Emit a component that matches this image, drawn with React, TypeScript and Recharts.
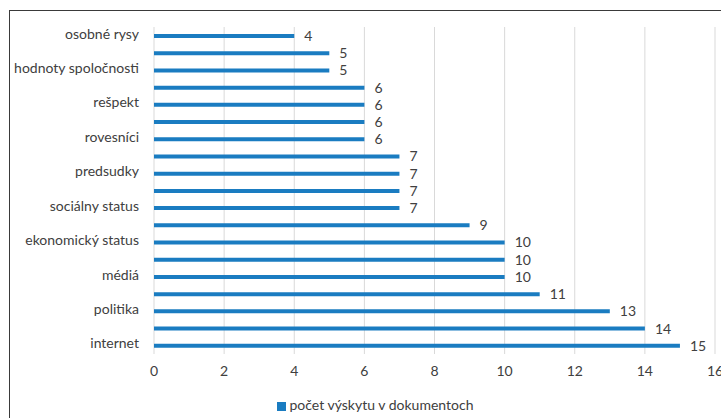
import { Bar, BarChart, CartesianGrid, LabelList, Legend, XAxis, YAxis } from "recharts";

// top to bottom; only every other category name is printed in the chart
const categories = [
  "osobné rysy",
  "",
  "hodnoty spoločnosti",
  "",
  "rešpekt",
  "",
  "rovesníci",
  "",
  "predsudky",
  "",
  "sociálny status",
  "",
  "ekonomický status",
  "",
  "médiá",
  "",
  "politika",
  "",
  "internet",
];
const counts = [4, 5, 5, 6, 6, 6, 6, 7, 7, 7, 7, 9, 10, 10, 10, 11, 13, 14, 15];
const xTicks = [0, 2, 4, 6, 8, 10, 12, 14, 16];
const seriesName = "počet výskytu v dokumentoch";

const data = categories.map((name, i) => ({ id: i, name, value: counts[i] }));

const FONT = "Lato, 'Open Sans', sans-serif";
const TEXT = "#404040";
const BLUE = "#1a7cc1";

export default function App() {
  return (
    <div style={{ position: "absolute", left: 0, top: 0, width: 721, height: 418, overflow: "hidden", background: "#fff" }}>
      <div
        style={{
          position: "absolute",
          left: 9,
          top: 10,
          width: 800,
          height: 500,
          border: "1px solid #3a3a3a",
          boxSizing: "border-box",
        }}
      />
      <div style={{ position: "absolute", left: 0, top: 0 }}>
        <BarChart
          width={750}
          height={418}
          data={data}
          layout="vertical"
          margin={{ top: 27, right: 35, bottom: 5, left: 14 }}
          barSize={4}
        >
          <CartesianGrid horizontal={false} stroke="#d9d9d9" />
          <XAxis
            type="number"
            domain={[0, 16]}
            ticks={xTicks}
            axisLine={false}
            tickLine={false}
            tickMargin={6}
            height={42}
            tick={{ fill: TEXT, fontSize: 14, fontFamily: FONT }}
          />
          <YAxis
            type="category"
            dataKey="id"
            width={140}
            interval={1}
            axisLine={false}
            tickLine={false}
            tickSize={0}
            tickMargin={15}
            tickFormatter={(i: number) => categories[i]}
            tick={{ fill: TEXT, fontSize: 14, fontFamily: FONT, dy: -2 }}
          />
          <Legend
            verticalAlign="bottom"
            iconType="square"
            iconSize={9}
            wrapperStyle={{ fontFamily: FONT, fontSize: 14, left: 0, width: 760 }}
            formatter={(v: string) => <span style={{ color: TEXT }}>{v}</span>}
          />
          <Bar dataKey="value" name={seriesName} fill={BLUE} isAnimationActive={false}>
            <LabelList dataKey="value" position="right" offset={10} fill={TEXT} fontSize={14} fontFamily={FONT} />
          </Bar>
        </BarChart>
      </div>
    </div>
  );
}
